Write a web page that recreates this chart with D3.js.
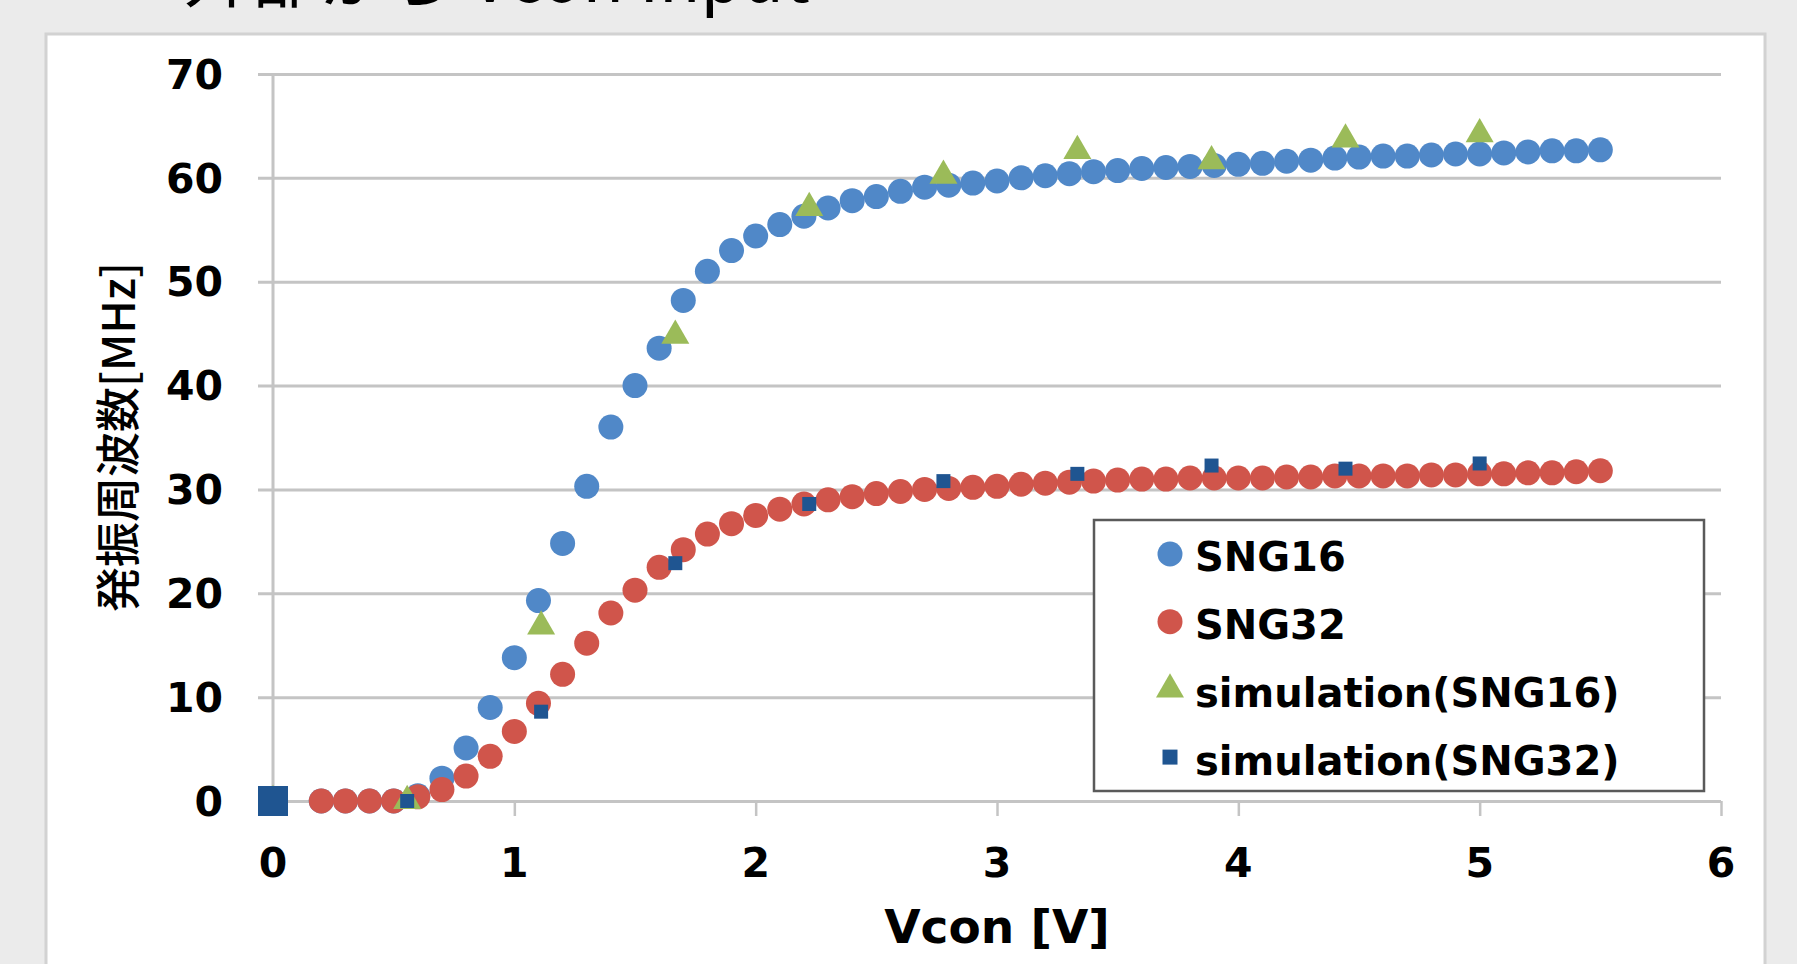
<!DOCTYPE html>
<html>
<head>
<meta charset="utf-8">
<script src="https://cdn.jsdelivr.net/npm/d3@7"></script>
<style>
  body { margin: 0; background: #ebebeb; overflow: hidden; }
  .tick-label { font-family: 'DejaVu Sans', sans-serif; font-weight: 700; fill: #000; }
</style>
</head>
<body>
<script>
const W = 1797;
const H = 964;

// measured points (Vcon step 0.1 V)
const vcon = [0.2, 0.3, 0.4, 0.5, 0.6, 0.7, 0.8, 0.9, 1.0, 1.1, 1.2, 1.3, 1.4, 1.5, 1.6, 1.7, 1.8, 1.9,
  2.0, 2.1, 2.2, 2.3, 2.4, 2.5, 2.6, 2.7, 2.8, 2.9, 3.0, 3.1, 3.2, 3.3, 3.4, 3.5, 3.6, 3.7, 3.8, 3.9,
  4.0, 4.1, 4.2, 4.3, 4.4, 4.5, 4.6, 4.7, 4.8, 4.9, 5.0, 5.1, 5.2, 5.3, 5.4, 5.5];
const sng16 = [0, 0, 0, 0, 0.5, 2.2, 5.1, 9.0, 13.8, 19.3, 24.8, 30.3, 36.0, 40.0, 43.6, 48.2, 51.0, 53.0,
  54.4, 55.5, 56.3, 57.1, 57.8, 58.2, 58.7, 59.1, 59.3, 59.5, 59.7, 60.0, 60.2, 60.4, 60.6, 60.7, 60.9, 61.0, 61.1, 61.2,
  61.3, 61.4, 61.6, 61.7, 61.9, 62.0, 62.1, 62.1, 62.2, 62.3, 62.3, 62.4, 62.5, 62.6, 62.6, 62.7];
const sng32 = [0, 0, 0, 0, 0.4, 1.1, 2.4, 4.3, 6.7, 9.4, 12.2, 15.2, 18.1, 20.3, 22.5, 24.2, 25.7, 26.7,
  27.5, 28.1, 28.6, 29.0, 29.3, 29.6, 29.8, 30.0, 30.1, 30.2, 30.3, 30.5, 30.6, 30.7, 30.8, 30.9, 31.0, 31.0, 31.1, 31.1,
  31.1, 31.1, 31.2, 31.2, 31.3, 31.3, 31.3, 31.3, 31.4, 31.4, 31.5, 31.5, 31.6, 31.6, 31.7, 31.8];

// simulation points
const simVcon = [0, 0.556, 1.111, 1.667, 2.222, 2.778, 3.333, 3.889, 4.444, 5.0];
const sim16 = [0, 0, 16.8, 44.8, 57.1, 60.2, 62.6, 61.6, 63.7, 64.2];
const sim32 = [0, 0, 8.6, 22.9, 28.6, 30.8, 31.5, 32.3, 32.0, 32.5];

const xTicks = [0, 1, 2, 3, 4, 5, 6];
const yTicks = [0, 10, 20, 30, 40, 50, 60, 70];
const legendLabels = ['SNG16', 'SNG32', 'simulation(SNG16)', 'simulation(SNG32)'];
const xTitle = 'Vcon [V]';
const yTitle = '発振周波数[MHz]';
const pageTitle = '外部から Vcon Input';

const colors = ['#5088c8', '#d0554b', '#9bbb59', '#1f5591'];
const gridColor = '#c4c4c4';

const plot = { l: 273, r: 1721, t: 74, b: 801 };

const x = d3.scaleLinear().domain([0, 6]).range([plot.l, plot.r]);
const y = d3.scaleLinear().domain([0, 70]).range([plot.b, plot.t]);

const svg = d3.select('body').append('svg')
  .attr('width', W)
  .attr('height', H);

// slide title, mostly scrolled off the top edge in the original
svg.append('text')
  .attr('x', 183)
  .attr('y', 2)
  .style('font-family', "'Noto Sans CJK JP', sans-serif")
  .style('font-size', '68px')
  .text(pageTitle);

// white slide panel
svg.append('rect')
  .attr('x', 46)
  .attr('y', 34)
  .attr('width', 1719)
  .attr('height', 960)
  .style('fill', '#fff')
  .style('stroke', '#d2d2d2')
  .style('stroke-width', 3);

// gridlines (with the small outward tick on the left)
const grid = svg.append('g')
  .attr('transform', `translate(${plot.l - 15},0)`)
  .call(d3.axisLeft(y).tickValues(yTicks).tickSize(-(plot.r - plot.l + 15)).tickFormat(''));
grid.select('.domain').remove();
grid.selectAll('.tick line')
  .style('stroke', gridColor)
  .style('stroke-width', 3);

// x axis ticks
const xAxis = svg.append('g')
  .attr('transform', `translate(0,${plot.b})`)
  .call(d3.axisBottom(x).tickValues(xTicks).tickSizeInner(15).tickSizeOuter(0).tickFormat(''));
xAxis.select('.domain').remove();
xAxis.selectAll('.tick line')
  .style('stroke', gridColor)
  .style('stroke-width', 2.5);

// y axis line
svg.append('line')
  .attr('x1', x(0))
  .attr('x2', x(0))
  .attr('y1', y(70))
  .attr('y2', y(0))
  .style('stroke', gridColor)
  .style('stroke-width', 3);

svg.append('g')
  .selectAll('text')
  .data(yTicks)
  .enter()
  .append('text')
  .attr('class', 'tick-label')
  .attr('x', 223)
  .attr('y', (d) => y(d))
  .attr('dy', '0.36em')
  .style('text-anchor', 'end')
  .style('font-size', '41px')
  .text((d) => d);

svg.append('g')
  .selectAll('text')
  .data(xTicks)
  .enter()
  .append('text')
  .attr('class', 'tick-label')
  .attr('x', (d) => x(d))
  .attr('y', 877)
  .style('text-anchor', 'middle')
  .style('font-size', '41px')
  .text((d) => d);

svg.append('text')
  .attr('class', 'tick-label')
  .attr('x', 997)
  .attr('y', 943)
  .style('text-anchor', 'middle')
  .style('font-size', '47px')
  .text(xTitle);

svg.append('text')
  .attr('transform', 'translate(119, 437) rotate(-90)')
  .attr('dy', '0.35em')
  .style('text-anchor', 'middle')
  .style('font-family', "'Noto Sans CJK JP', sans-serif")
  .style('font-weight', 500)
  .style('font-size', '45px')
  .text(yTitle);

// markers
const circle = d3.symbol().type(d3.symbolCircle).size(Math.PI * 12.5 * 12.5);
const triangle = d3.symbol().type(d3.symbolTriangle).size(340);
const square = (s) => d3.symbol().type(d3.symbolSquare).size(s * s)();

const points = svg.append('g');

const drawSeries = (xs, ys, path, color) => points.append('g')
  .selectAll('path')
  .data(ys)
  .enter()
  .append('path')
  .attr('transform', (d, i) => `translate(${x(xs[i])},${y(d)})`)
  .attr('d', path)
  .style('fill', color);

drawSeries(vcon, sng16, circle, colors[0]);
drawSeries(vcon, sng32, circle, colors[1]);
drawSeries(simVcon, sim16, triangle, colors[2]);
// the point at the origin is drawn much larger in the original
drawSeries(simVcon, sim32, (d, i) => square(i === 0 ? 30 : 14), colors[3]);

// legend
const legend = svg.append('g').attr('transform', 'translate(1094, 520)');
legend.append('rect')
  .attr('width', 610)
  .attr('height', 271)
  .style('fill', '#fff')
  .style('stroke', '#5a5a5a')
  .style('stroke-width', 2.5);

const legendSymbols = [circle(), circle(), triangle(), square(15)];

const rows = legend.selectAll('g.row')
  .data(legendLabels)
  .enter()
  .append('g')
  .attr('class', 'row')
  .attr('transform', (d, i) => `translate(0, ${37 + i * 67.7})`);

rows.append('path')
  .attr('transform', 'translate(76, -3)')
  .attr('d', (d, i) => legendSymbols[i])
  .style('fill', (d, i) => colors[i]);

rows.append('text')
  .attr('class', 'tick-label')
  .attr('x', 101)
  .attr('dy', '0.36em')
  .style('font-size', '40px')
  .text((d) => d);
</script>
</body>
</html>
